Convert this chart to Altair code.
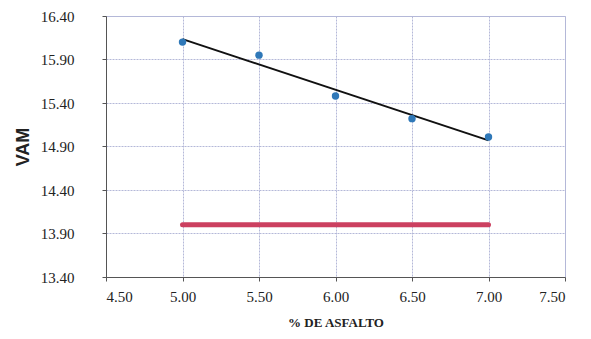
import altair as alt
import pandas as pd

asfalto = [5.0, 5.5, 6.0, 6.5, 7.0]
vam = [16.10, 15.95, 15.48, 15.22, 15.01]
limite_x = [5.0, 7.0]
limite_y = [14.0, 14.0]

df = pd.DataFrame({"x": asfalto, "y": vam})
lim = pd.DataFrame({"x": limite_x, "y": limite_y})

xs = alt.Scale(domain=[4.5, 7.5], nice=False, zero=False)
ys = alt.Scale(domain=[13.4, 16.4], nice=False, zero=False)

xax = alt.Axis(values=[4.5, 5.0, 5.5, 6.0, 6.5, 7.0, 7.5], format=".2f", title="% DE ASFALTO",
               labelFont="Liberation Serif", labelFontSize=15, labelColor="#222",
               titleFont="Liberation Serif", titleFontSize=13, titleFontWeight="bold", titleColor="#222",
               titlePadding=12, grid=True, gridColor="#b4b8d8", gridDash=[2, 1], gridWidth=1,
               domainColor="#555", tickColor="#555", tickSize=4, labelPadding=8)
yax = alt.Axis(values=[13.4, 13.9, 14.4, 14.9, 15.4, 15.9, 16.4], format=".2f", title="VAM",
               labelFont="Liberation Serif", labelFontSize=15, labelColor="#222",
               titleFont="Liberation Sans", titleFontSize=18, titleFontWeight="bold", titleColor="#222",
               titlePadding=8, grid=True, gridColor="#b4b8d8", gridDash=[2, 1], gridWidth=1,
               domainColor="#555", tickColor="#555", tickSize=4, labelPadding=28)

base = alt.Chart(df)
points = base.mark_circle(size=55, color="#2f78b8", opacity=1).encode(
    x=alt.X("x:Q", scale=xs, axis=xax), y=alt.Y("y:Q", scale=ys, axis=yax))
trend = base.transform_regression("x", "y").mark_line(color="#111", strokeWidth=2).encode(
    x=alt.X("x:Q", scale=xs), y=alt.Y("y:Q", scale=ys))
red = alt.Chart(lim).mark_line(color="#cc4060", strokeWidth=5, strokeCap="round").encode(
    x=alt.X("x:Q", scale=xs), y=alt.Y("y:Q", scale=ys))

chart = alt.layer(red, trend, points).properties(
    width=459, height=261, autosize="none",
    padding={"left": 98, "top": 8, "right": 18, "bottom": 54},
).configure_view(stroke="#b4b8d8")

chart.save("out.html", embed_options={"renderer": "svg", "actions": False})
